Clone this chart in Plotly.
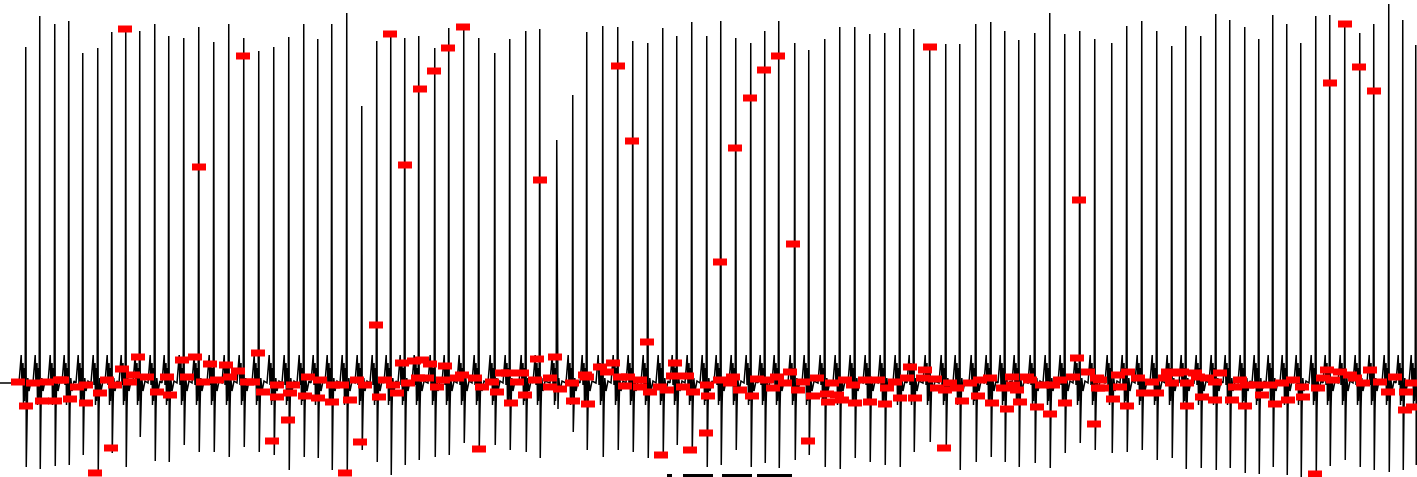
import plotly.graph_objects as go

# ---- beat (R-peak) positions, sample index ----
beat_x = [26, 40, 55, 69, 83, 98, 112, 126, 140, 155, 169, 184, 199, 214, 229, 244, 259, 274, 289,
          304, 318, 332, 347, 362, 377, 391, 405, 419, 435, 449, 464, 479, 495, 510, 526, 540, 557,
          573, 587, 603, 618, 633, 648, 663, 677, 692, 707, 721, 736, 751, 765, 779, 795, 809, 825,
          840, 855, 870, 885, 900, 914, 930, 946, 960, 976, 991, 1005, 1019, 1035, 1050, 1065, 1080,
          1095, 1112, 1127, 1142, 1157, 1172, 1186, 1201, 1216, 1230, 1245, 1259, 1273, 1287, 1301,
          1316, 1330, 1345, 1360, 1374, 1389, 1403, 1416]

# R-peak amplitude
beat_top = [336, 367, 359, 362, 330, 335, 351, 356, 352, 359, 347, 345, 356, 341, 359, 345, 332, 336, 346,
            359, 344, 359, 370, 277, 342, 349, 345, 347, 335, 355, 353, 345, 330, 344, 352, 354, 243,
            288, 351, 357, 356, 342, 340, 355, 347, 361, 347, 362, 345, 340, 352, 362, 340, 333, 344,
            356, 356, 349, 350, 355, 354, 337, 339, 339, 359, 361, 352, 343, 350, 370, 349, 352,
            344, 340, 357, 362, 352, 337, 357, 347, 369, 363, 356, 344, 368, 359, 340,
            367, 368, 361, 350, 359, 379, 363, 338]

# S-trough amplitude
beat_bottom = [-84, -86, -83, -82, -72, -89, -70, -84, -54, -78, -79, -62, -69, -69, -74, -64, -69, -72, -87,
               -74, -75, -87, -89, -67, -79, -92, -82, -77, -74, -72, -60, -65, -62, -67, -69, -75, -19,
               -49, -67, -74, -67, -69, -75, -72, -62, -69, -84, -82, -67, -84, -80, -85, -77, -72, -84,
               -86, -75, -79, -82, -84, -69, -59, -64, -87, -79, -74, -79, -84, -80, -85, -70, -60,
               -67, -70, -69, -67, -77, -75, -86, -85, -87, -85, -90, -91, -84, -92, -94,
               -92, -83, -77, -84, -87, -89, -87, -82]

# small deflections around each QRS complex (offset in samples, amplitude)
pre_dx = [-7.0, -4.8, -4.0, -3.0, -2.5, -2.0, -1.5, -0.8]
pre_amp = [0, 28, -2, 20, -22, 15, -18, 5]
post_dx = [1.0, 1.8, 3.0, 5.0]
post_amp = [-26, 5, -8, 2]

# ---- detected points (red) ----
marker_x = [125, 243, 199, 390, 405, 420, 434, 448, 463, 540, 618, 632, 720, 735, 750, 764, 778, 793, 930,
            1079, 1330, 1345, 1359, 1374, 376, 647, 1077, 111, 95, 272, 288, 345, 360, 479, 661, 690, 706,
            808, 944, 1094, 1315, 1405,
            18, 26, 33, 42, 55, 47, 60, 70, 62, 86, 86, 77, 100, 107, 122, 115, 130, 138, 133, 147, 157,
            170, 167, 182, 195, 187, 203, 210, 217, 226, 230, 238, 247, 253, 258, 263, 277, 277, 290, 293,
            308, 305, 320, 318, 332, 333, 342, 350, 357, 365, 379, 385, 393, 397, 402, 408, 414, 418,
            422, 430, 427, 437, 445, 443, 457, 462, 475, 482, 492, 497, 502, 508, 511, 517, 522, 525, 537,
            535, 550, 555, 550, 560, 573, 572, 587, 588, 585, 600, 607, 613, 620, 628, 625, 640, 640, 650,
            660, 667, 675, 673, 687, 683, 693, 708, 707, 720, 730, 733, 740, 752, 757,
            767, 773, 777, 790, 785, 798, 803, 813, 817, 827, 828, 837, 842, 832, 845, 855, 853, 865, 870,
            878, 885, 887, 895, 900, 910, 907, 915, 925, 923, 935, 937, 945, 950, 962, 957, 970, 978, 980,
            992, 990, 1003, 1007, 1012, 1013, 1020, 1017, 1027, 1030, 1037, 1042, 1050, 1053, 1060, 1065,
            1073, 1088, 1098, 1097,
            1100, 1102, 1113, 1118, 1120, 1128, 1127, 1138, 1143, 1152, 1157, 1165, 1168, 1177, 1172, 1182,
            1187, 1187, 1195, 1202, 1198, 1207, 1215, 1220, 1215, 1232, 1235, 1240, 1245, 1247, 1257, 1262,
            1275, 1270, 1282, 1288, 1293, 1303, 1302, 1318, 1327, 1323, 1340, 1333, 1350, 1355, 1370, 1363,
            1380, 1388, 1395, 1406, 1413, 1412]
marker_amp = [354, 327, 216, 349, 218, 294, 312, 335, 356, 203, 317, 242, 121, 235, 285, 313, 327, 139, 336,
              183, 300, 359, 316, 292, 58, 41, 25, -65, -90, -58, -37, -90, -59, -66, -72, -67, -50,
              -58, -65, -41, -91, -27,
              1, -23, 0, -18, -18, 1, 3, -16, 3, -20, -2, -4, -10, 3, 14, -2, 1, 26, 8, 6, -9,
              -12, 6, 23, 26, 6, 1, 19, 3, 18, 6, 12, 1, 1, 30, -9, -14, -2, -10, -2,
              6, -13, 3, -15, -19, -2, -2, -17, 3, -2, -14, 3, -2, -10, 20, 0, 22, 5,
              23, 19, 5, -4, 17, 3, 5, 8, 5, -4, 1, -9, 10, 10, -20, 1, 10, -12, 24,
              3, 5, 26, -4, -6, -18, 0, 6, -21, 8, 16, 11, 20, 6, 6, -3, 3, -4, -9,
              -4, -7, 20, 7, 7, -4, -9, -13, -2, 3, 0, 6, -7, -13, 4,
              3, -5, 6, 11, 0, -7, 1, -13, 5, -11, -19, -12, -17, 0, 3, -20, -2, 3, -19,
              3, -21, -5, 1, -15, 16, 5, -15, 13, 5, 4, -5, -7, 0, -18, -5, 0, -13, 3,
              -20, 5, -5, -26, 6, -2, -19, -7, 6, 3, -24, -2, -31, -2, 3, -20,
              6, 11, -5, 5,
              3, -5, -16, 8, -4, 11, -23, 5, -10, 1, -10, 5, 11, 10, 0, 11,
              -23, 0, 10, -14, 6, 5, -17, 10, 1, -17, -4, 3, -23, -2, -2, -12,
              -21, -2, 0, -17, 3, -14, -4, -5, 13, 5, 11, 3, 8, 5, 13, 0,
              1, -9, 6, -9, -24, 0]

# dark segments along the lower edge
bar_x0 = [667, 683, 722, 757]
bar_x1 = [672, 713, 752, 792]
bar_amp = [-93, -93, -93, -93]

# ---- build ECG trace ----
sig_x, sig_y = [0], [0]
for bx, top, bot in zip(beat_x, beat_top, beat_bottom):
    for dx, a in zip(pre_dx, pre_amp):
        sig_x.append(bx + dx); sig_y.append(a)
    sig_x += [bx - 0.25, bx + 0.25]
    sig_y += [top, bot]
    for dx, a in zip(post_dx, post_amp):
        sig_x.append(bx + dx); sig_y.append(a)
sig_x.append(1417); sig_y.append(0)

bx_list, by_list = [], []
for a, b, y in zip(bar_x0, bar_x1, bar_amp):
    bx_list += [a, b, None]; by_list += [y, y, None]

fig = go.Figure()
fig.add_trace(go.Scatter(x=sig_x, y=sig_y, mode="lines",
                         line=dict(color="black", width=1.5), hoverinfo="skip"))
fig.add_trace(go.Scatter(x=bx_list, y=by_list, mode="lines",
                         line=dict(color="black", width=4), hoverinfo="skip"))
fig.add_trace(go.Scatter(x=marker_x, y=marker_amp, mode="markers",
                         marker=dict(symbol="line-ew", size=10, color="red",
                                     line=dict(color="red", width=7))))

fig.update_layout(width=1417, height=477, margin=dict(l=0, r=0, t=0, b=0),
                  paper_bgcolor="white", plot_bgcolor="white", showlegend=False)
fig.update_xaxes(range=[0, 1417], visible=False, showgrid=False, zeroline=False)
fig.update_yaxes(range=[-94, 383], visible=False, showgrid=False, zeroline=False)

fig.write_html("out.html", config={"displayModeBar": False},
               post_script="document.body.style.margin='0';document.body.style.overflow='hidden';")
